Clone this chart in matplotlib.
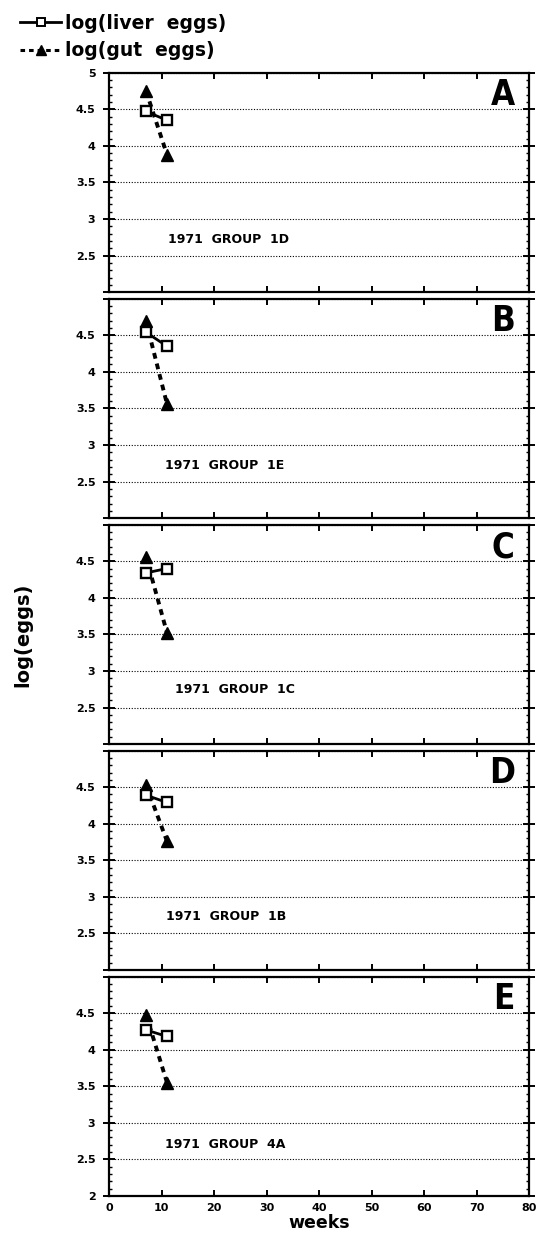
#!/usr/bin/env python3
# -*- coding: utf-8 -*-

import matplotlib
matplotlib.use("Agg")
import matplotlib.pyplot as plt
from matplotlib.ticker import MultipleLocator
from matplotlib.lines import Line2D

# ---- data ----
weeks = [7, 11]
panel_letters = ["A", "B", "C", "D", "E"]
group_names = ["1971  GROUP  1D", "1971  GROUP  1E", "1971  GROUP  1C",
               "1971  GROUP  1B", "1971  GROUP  4A"]
liver_eggs = [
    [4.47, 4.35],
    [4.54, 4.35],
    [4.34, 4.40],
    [4.39, 4.29],
    [4.27, 4.18],
]
gut_eggs = [
    [4.75, 3.88],
    [4.69, 3.56],
    [4.56, 3.52],
    [4.53, 3.76],
    [4.48, 3.55],
]
# where the group caption starts (weeks, log value)
group_pos = [(11.2, 2.72), (10.6, 2.72), (12.5, 2.74), (10.9, 2.73), (10.6, 2.71)]

y_ticks = [2, 2.5, 3, 3.5, 4, 4.5, 5]
y_labels_top = ["", "2.5", "3", "3.5", "4", "4.5", "5"]
y_labels_mid = ["", "2.5", "3", "3.5", "4", "4.5", ""]
y_labels_bot = ["2", "2.5", "3", "3.5", "4", "4.5", ""]
x_ticks = [0, 10, 20, 30, 40, 50, 60, 70, 80]

W, H = 546, 1240
plt.rcParams["font.family"] = ["DejaVu Sans"]
plt.rcParams["font.weight"] = "bold"

fig = plt.figure(figsize=(W / 100, H / 100), dpi=100)
gs = fig.add_gridspec(5, 1, left=109.3 / W, right=529 / W,
                      top=1 - 72.7 / H, bottom=1 - 1196 / H, hspace=0.0294)

GUT_DASH = (0, (1.5, 1.3))

axes = []
for i in range(5):
    ax = fig.add_subplot(gs[i, 0])
    axes.append(ax)
    ax.plot(weeks, gut_eggs[i], color="black", lw=2.8, ls=GUT_DASH,
            marker="^", ms=8, mfc="black", mec="black", zorder=3)
    ax.plot(weeks, liver_eggs[i], color="black", lw=2.0, ls="-",
            marker="s", ms=6.5, mfc="white", mec="black", mew=1.7, zorder=4)

    ax.set_xlim(0, 80)
    ax.set_ylim(2, 5)
    ax.set_xticks(x_ticks)
    ax.set_yticks(y_ticks)
    if i == 0:
        ax.set_yticklabels(y_labels_top)
    elif i == 4:
        ax.set_yticklabels(y_labels_bot)
    else:
        ax.set_yticklabels(y_labels_mid)
    ax.yaxis.set_minor_locator(MultipleLocator(0.1))

    ax.grid(axis="y", which="major", ls=(0, (1, 1.5)), lw=0.8, color="black")
    for s in ax.spines.values():
        s.set_linewidth(1.6)

    ax.tick_params(axis="x", which="major", direction="in", length=4, width=1.4,
                   top=True, bottom=True, labelsize=8, pad=5)
    ax.tick_params(axis="y", which="major", direction="inout", length=8, width=1.4,
                   left=True, right=True, labelsize=8, pad=6)
    ax.tick_params(axis="y", which="minor", direction="in", length=2.5, width=1.0,
                   left=True, right=True)
    if i < 4:
        ax.tick_params(axis="x", labelbottom=False)

    gx, gy = group_pos[i]
    ax.text(gx, gy, group_names[i], fontsize=9, fontweight="bold",
            ha="left", va="center")
    ax.text(0.966, 0.975, panel_letters[i], transform=ax.transAxes,
            fontsize=25, fontweight="heavy", fontstretch="condensed",
            ha="right", va="top")

axes[-1].set_xlabel("weeks", fontsize=12.5, fontweight="bold", labelpad=1)

fig.text(22.5 / W, 1 - 634.5 / H, "log(eggs)", rotation=90, fontsize=14,
         fontweight="bold", ha="center", va="center")

handles = [
    Line2D([], [], color="black", lw=2.0, marker="s", ms=5.5, mfc="white",
           mec="black", mew=1.4),
    Line2D([], [], color="black", lw=2.2, ls=GUT_DASH, marker="^", ms=6.5,
           mfc="black", mec="black"),
]
fig.legend(handles, ["log(liver  eggs)", "log(gut  eggs)"], loc="upper left",
           bbox_to_anchor=(20 / W, 1 - 14 / H), frameon=False, borderpad=0,
           borderaxespad=0, handlelength=2.2, handletextpad=0.2,
           labelspacing=0.45, prop={"size": 13.5, "weight": "bold"})

fig.savefig("out.png", dpi=100)
